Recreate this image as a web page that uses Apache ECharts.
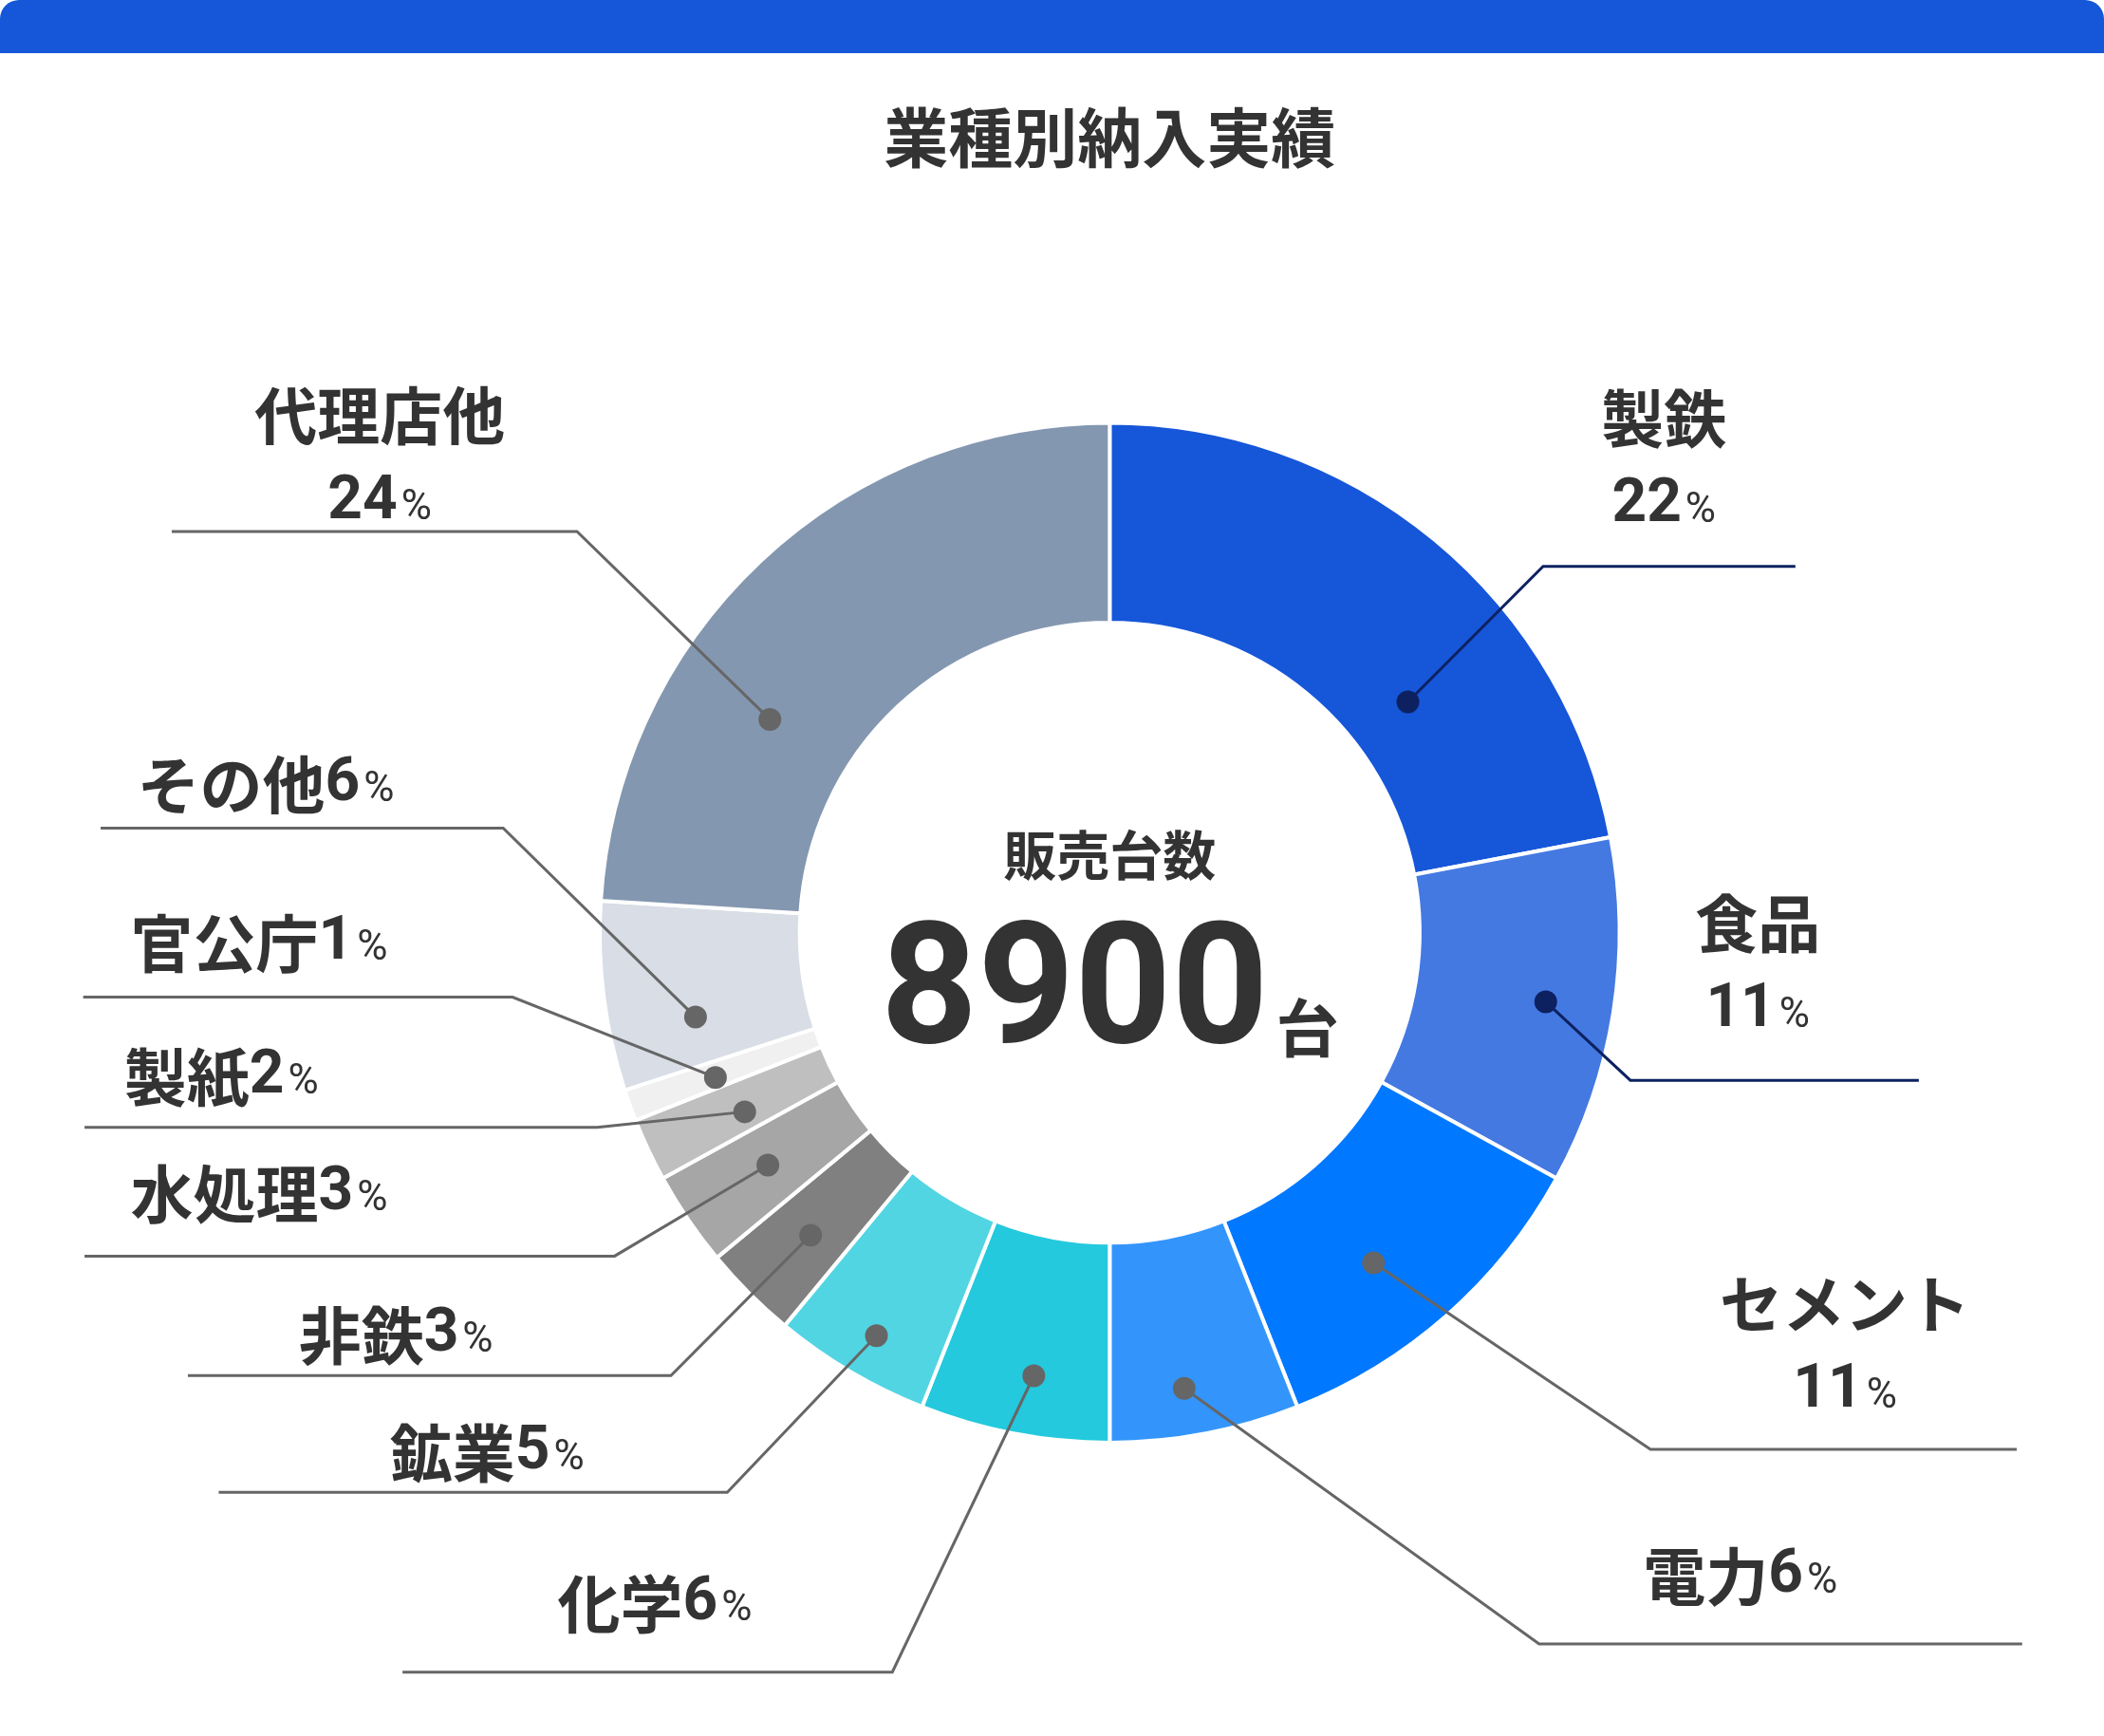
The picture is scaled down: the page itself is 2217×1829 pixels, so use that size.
<!DOCTYPE html>
<html><head><meta charset="utf-8">
<script src="https://cdn.jsdelivr.net/npm/echarts@6/dist/echarts.min.js"></script>
<style>html,body{margin:0;padding:0;background:#fff}#main{width:2217px;height:1829px}</style>
</head><body><div id="main"></div>
<script>
var names = ['製鉄','食品','セメント','電力','化学','鉱業','非鉄','水処理','製紙','官公庁','その他','代理店他'];
var values = [22,11,11,6,6,5,3,3,2,1,6,24];
var colors = ['#1656d9','#4479e2','#0078ff','#3395fb','#24c9dd','#52d5e3','#808080','#a6a6a6','#bfbfbf','#f0f0f0','#d8dde6','#8497b0'];
var total = 8900;

// layout (in reference display units, scaled by S)
var S = 2217 / 1568;
var cx = 827, cy = 695, rIn = 231, rOut = 380;
var FONT = '"Noto Sans CJK JP", "Noto Sans", sans-serif';
// per label: dot position along slice (t) and radius, line elbow/end, text position, two-line?
var labelCfg = [
  {t:.66, r:281, elbow:[1150,422], end:[1338,422], pos:[1240,312], two:true, dark:true},
  {t:.5,  r:329, elbow:[1215,805], end:[1430,805], pos:[1310,688], two:true, dark:true},
  {t:.57, r:315, elbow:[1230,1080], end:[1503,1080], pos:[1375,972], two:true},
  {t:.57, r:344, elbow:[1147,1225], end:[1507,1225], pos:[1297,1175]},
  {t:.45, r:335, elbow:[665,1246], end:[300,1246], pos:[488,1195]},
  {t:.47, r:347, elbow:[542,1112], end:[163,1112], pos:[363,1083]},
  {t:.47, r:317, elbow:[500,1025], end:[140,1025], pos:[295,995]},
  {t:.5,  r:308, elbow:[458,936], end:[63,936], pos:[193,890]},
  {t:.37, r:303, elbow:[445,840], end:[63,840], pos:[165,803]},
  {t:.4,  r:313, elbow:[382,743], end:[62,743], pos:[193,703]},
  {t:.3,  r:315, elbow:[375,617], end:[75,617], pos:[198,585]},
  {t:.33, r:299, elbow:[430,396], end:[128,396], pos:[283,310], two:true}
];

var sum = values.reduce(function(a,b){return a+b;},0);
var graphics = [
  {type:'rect', shape:{x:0,y:0,width:2217,height:56*S/1.414*1.0,r:[20,20,0,0]}, style:{fill:'#1656d9'}},
  {type:'text', x:cx*S, y:103*S, style:{text:'業種別納入実績', font:'bold 68px '+FONT, fill:'#333', align:'center', verticalAlign:'middle'}},
  {type:'text', x:cx*S, y:637*S, style:{text:'販売台数', font:'bold 56px '+FONT, fill:'#333', align:'center', verticalAlign:'middle'}, z:10},
  {type:'text', x:cx*S, y:745*S, z:10, style:{text:'{a|'+total+'}{b|台}', align:'center', verticalAlign:'middle',
    rich:{a:{font:'bold 178px Roboto, sans-serif', fill:'#333'}, b:{font:'bold 66px '+FONT, fill:'#333', padding:[60,0,0,8]}}}}
];
var acc = 0;
values.forEach(function(v,i){
  var c = labelCfg[i];
  var ang = (acc + v*c.t)/sum*2*Math.PI;
  acc += v;
  var dx = (cx + c.r*Math.sin(ang))*S, dy = (cy - c.r*Math.cos(ang))*S;
  var lc = c.dark ? '#0d2160' : '#666';
  graphics.push({type:'polyline', z:20, shape:{points:[[dx,dy],[c.elbow[0]*S,c.elbow[1]*S],[c.end[0]*S,c.end[1]*S]]}, style:{stroke:lc, lineWidth:3, fill:null}});
  graphics.push({type:'circle', z:21, shape:{cx:dx,cy:dy,r:12}, style:{fill:lc}});
  var num = '{n|'+v+'}{p|%}';
  var rich = {t:{font:'bold 66px '+FONT, fill:'#333', padding:[0,0,0,0]}, n:{font:'bold 64px Roboto, sans-serif', fill:'#333'}, p:{font:'44px Roboto, sans-serif', fill:'#333', padding:[12,0,0,4]}};
  if (c.two) {
    graphics.push({type:'text', x:c.pos[0]*S, y:c.pos[1]*S, style:{text:'{t|'+names[i]+'}', rich:rich, align:'center', verticalAlign:'middle'}});
    graphics.push({type:'text', x:c.pos[0]*S, y:(c.pos[1]+65)*S, style:{text:num, rich:rich, align:'center', verticalAlign:'middle'}});
  } else {
    graphics.push({type:'text', x:c.pos[0]*S, y:c.pos[1]*S, style:{text:'{t|'+names[i]+'}'+num, rich:rich, align:'center', verticalAlign:'middle'}});
  }
});

var chart = echarts.init(document.getElementById('main'));
chart.setOption({
  animation:false,
  backgroundColor:'#fff',
  series:[{
    type:'pie', center:[cx*S, cy*S], radius:[rIn*S, rOut*S], startAngle:90, clockwise:true,
    label:{show:false}, labelLine:{show:false},
    itemStyle:{borderColor:'#fff', borderWidth:4},
    data:names.map(function(n,i){return {name:n, value:values[i], itemStyle:{color:colors[i]}};})
  }],
  graphic:graphics
});
</script></body></html>
